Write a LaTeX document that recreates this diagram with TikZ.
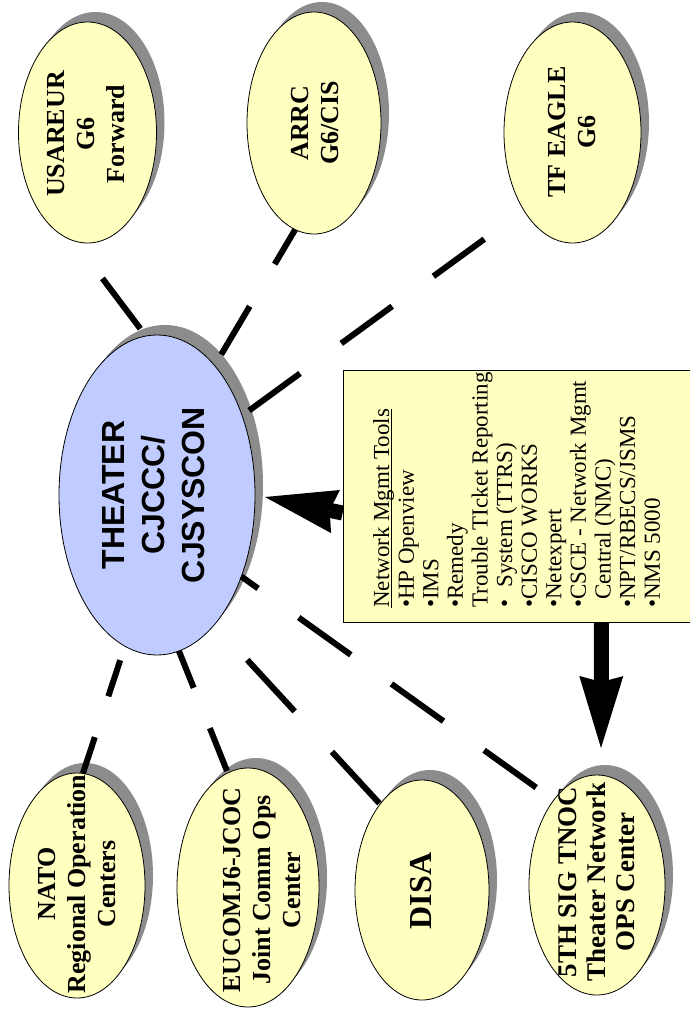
\documentclass[tikz,border=0pt]{standalone}
\usepackage{fontspec}
\setmainfont{Liberation Serif}
\setsansfont{Liberation Sans}
\usetikzlibrary{arrows.meta,shapes.geometric,shadows}

\definecolor{ovalfill}{RGB}{255,255,192}
\definecolor{hubfill}{RGB}{192,204,255}
\definecolor{shadowgray}{RGB}{140,140,140}

% underlined heading of the tool list
\newcommand\ulhead[1]{\setbox0\hbox{#1}\rlap{\rule[-3pt]{\wd0}{1.6pt}}\box0}

\begin{document}
\begin{tikzpicture}[x=1pt, y=-1pt,
    oval/.style={ellipse, draw=black, line width=0.8pt, fill=ovalfill,
      inner sep=0pt, outer sep=0pt,
      drop shadow={shadow xshift=8pt, shadow yshift=10pt, fill=shadowgray,
        draw=none, opacity=1}},
    hub/.style={oval, fill=hubfill},
    otext/.style={rotate=90, align=center, inner sep=0pt,
      font=\bfseries\fontsize{26}{30}\selectfont},
    htext/.style={rotate=90, align=center, inner sep=0pt,
      font=\sffamily\bfseries\fontsize{32}{40}\selectfont},
    toolbox/.style={draw=black, line width=0.8pt, fill=ovalfill, inner sep=0pt},
    tooltext/.style={rotate=90, align=left, inner sep=0pt,
      font=\fontsize{23}{24.6}\selectfont},
    link/.style={line width=6pt},
    fat/.style={line width=15pt,
      -{Stealth[length=72pt, width=44pt, inset=6pt, line width=0pt]}}
  ]
  \useasboundingbox (0,0) rectangle (689,1010);

  % outer centres
  \node[oval, minimum width=138pt, minimum height=221pt] (usareur) at (87.5,132.5) {};
  \node[oval, minimum width=134pt, minimum height=222pt] (arrc) at (314,123) {};
  \node[oval, minimum width=137pt, minimum height=221pt] (tfeagle) at (572.5,132.5) {};
  \node[oval, minimum width=136pt, minimum height=225pt] (nato) at (77,885.5) {};
  \node[oval, minimum width=142pt, minimum height=239pt] (eucom) at (248,887.5) {};
  \node[oval, minimum width=134pt, minimum height=220pt] (disa) at (422,890) {};
  \node[oval, minimum width=136pt, minimum height=220pt] (tnoc) at (597,885) {};
  % hub
  \node[hub, minimum width=196pt, minimum height=320pt] (theater) at (157,495) {};

  \node[otext] (usareur-t) at (86,134) {USAREUR\\G6\\Forward};
  \node[otext] (arrc-t) at (315,123) {ARRC\\G6/CIS};
  \node[otext] (tfeagle-t) at (572,132) {TF EAGLE\\G6};
  \node[otext] (nato-t) at (77,884) {NATO\\Regional Operation\\Centers};
  \node[otext] (eucom-t) at (262,890) {EUCOMJ6-JCOC\\Joint Comm Ops\\Center};
  \node[otext, font=\bfseries\fontsize{32}{36}\selectfont] (disa-t) at (421,891) {DISA};
  \node[otext, font=\bfseries\fontsize{27}{29}\selectfont] (tnoc-t) at (597,882)
    {5TH SIG TNOC\\Theater Network\\OPS Center};
  \node[htext] (theater-t) at (154,495) {THEATER\\CJCCC/\\CJSYSCON};

  % tool list
  \node[toolbox, minimum width=349pt, minimum height=252pt] (tools) at (517.5,496) {};
  \node[tooltext, anchor=north west] (tools-t) at (373,608) {\ulhead{Network Mgmt Tools}\\
    •HP Openview\\
    •IMS\\
    •Remedy\\
    Trouble TIcket Reporting\\
    •\hspace*{12pt}System (TTRS)\\
    •CISCO WORKS\\
    •Netexpert\\
    •CSCE - Network Mgmt\\
    \hspace*{8pt}Central (NMC)\\
    •NPT/RBECS/JSMS\\
    •NMS 5000};

  % links
  \draw[link, dash pattern=on 63pt off 50pt, dash phase=103.8pt] (theater.94) -- (usareur.263);
  \draw[link, dash pattern=on 56pt off 49pt, dash phase=92.1pt] (theater.66) -- (arrc.260);
  \draw[link, dash pattern=on 63pt off 51pt, dash phase=105.3pt] (theater.43) -- (tfeagle.238);
  \draw[link, dash pattern=on 64pt off 50pt, dash phase=43.4pt] (theater.316) -- (tnoc.117);
  \draw[link, dash pattern=on 70pt off 55pt, dash phase=76.8pt] (theater.294) -- (disa.116);
  \draw[link, dash pattern=on 46pt off 43.5pt, dash phase=6.3pt] (theater.278) -- (eucom.100);
  \draw[link, dash pattern=on 38pt off 43pt, dash phase=66.2pt] (theater.258) -- (nato.87);

  % feeds
  \coordinate (tnoc-in) at (601,748);
  \draw[fat] ([yshift=-17pt]tools.west) -- ([xshift=10pt,yshift=-2pt]theater.east);
  \draw[fat] ([xshift=84pt]tools.south) -- (tnoc-in);
\end{tikzpicture}
\end{document}
